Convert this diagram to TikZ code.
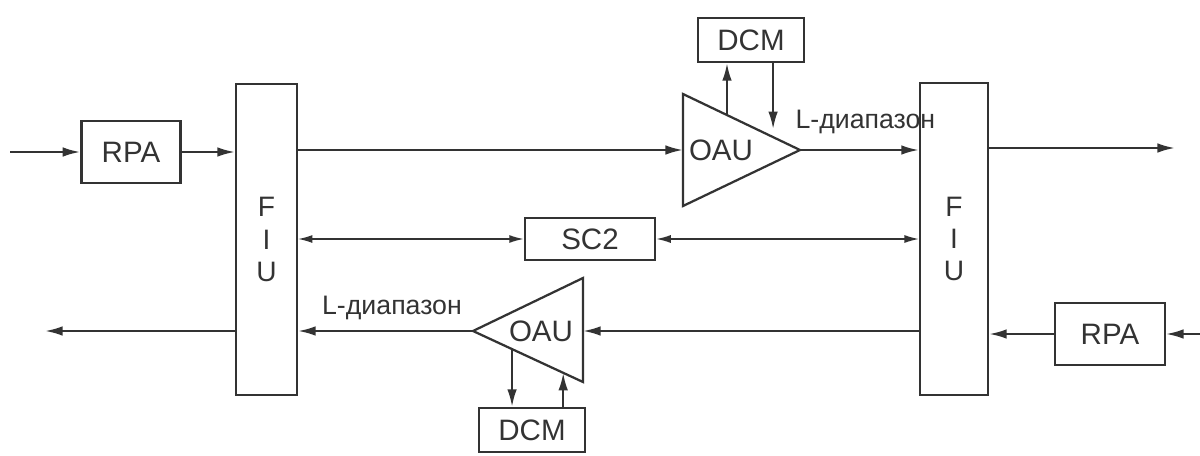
\documentclass[tikz,border=0pt]{standalone}
\usepackage{fontspec}
\setmainfont{Liberation Sans}
\usetikzlibrary{positioning,arrows.meta,calc}

\begin{document}
\begin{tikzpicture}[
    x=0.0125cm, y=-0.0125cm,
    font=\fontsize{10.5}{11.5}\selectfont,
    color=black!80, line width=0.8pt,
    box/.style    ={draw, inner sep=0pt, minimum width=1.24cm, minimum height=0.78cm},
    dcmbox/.style ={draw, inner sep=0pt, minimum width=1.33cm, minimum height=0.55cm},
    fiu/.style    ={draw, inner sep=0pt, align=center, minimum height=3.89cm,
                    font=\fontsize{10}{11.4}\selectfont},
    arrow/.style  ={-{Latex[length=2.2mm,width=1.2mm]}},
    twoway/.style ={{Latex[length=1.8mm,width=1mm]}-{Latex[length=1.8mm,width=1mm]},
                    line width=0.5pt},
    band/.style   ={font=\fontsize{9.5}{11}\selectfont}
]
\useasboundingbox (0,0) rectangle (1200,456);

% --- FIU blocks ---
\node[fiu, minimum width=0.76cm] (fiu1) at (266.5,239.5) {F\\I\\U};
\node[fiu, minimum width=0.85cm] (fiu2) at (954,239) {F\\I\\U};

% --- RPA inputs ---
\node[box] (rpa1) at (131,152) {RPA};
\node[box, minimum width=1.37cm] (rpa2) at (1110,334) {RPA};
\coordinate (in1) at (10,152);
\coordinate (in2) at (1200,334);
\draw[arrow] (in1) -- (rpa1);
\draw[arrow] (rpa1.east) -- (rpa1.east -| fiu1.west);
\draw[arrow] (in2) -- (rpa2);
\draw[arrow] (rpa2.west) -- (rpa2.west -| fiu2.east);

% --- upper OAU ---
\coordinate (oau1top) at (683,94);
\coordinate (oau1bot) at (683,206);
\coordinate (oau1tip) at (800,150);
\coordinate (oau1in)  at (683,150);
\draw (oau1top) -- (oau1tip) -- (oau1bot) -- cycle;
\node (oau1) at (721,150) {OAU};
\node[dcmbox] (dcm1) at (751,40) {DCM};
\coordinate (t1a) at ($(oau1top)!0.376!(oau1tip)$);
\coordinate (t1b) at ($(oau1top)!0.77!(oau1tip)$);
\draw[arrow] (t1a) -- (t1a |- dcm1.south);
\draw[arrow] (t1b |- dcm1.south) -- ($(t1b)+(0,-8)$);
\node[band, anchor=west] (lab1) at (785,122) {L-диапазон};

\draw[arrow] (fiu1.east |- oau1in) -- (oau1in);
\draw[arrow] (oau1tip) -- (oau1tip -| fiu2.west);

% --- lower OAU ---
\coordinate (oau2top) at (583,278);
\coordinate (oau2bot) at (583,382);
\coordinate (oau2tip) at (473,331);
\coordinate (oau2in)  at (583,331);
\draw (oau2top) -- (oau2tip) -- (oau2bot) -- cycle;
\node (oau2) at (541,331) {OAU};
\node[dcmbox] (dcm2) at (532,430) {DCM};
\coordinate (t2a) at ($(oau2bot)!0.645!(oau2tip)$);
\coordinate (t2b) at ($(oau2bot)!0.18!(oau2tip)$);
\draw[arrow] (t2a) -- (t2a |- dcm2.north);
\draw[arrow] (t2b |- dcm2.north) -- (t2b);
\node[band] (lab2) at (392,308) {L-диапазон};

\draw[arrow] (oau2in -| fiu2.west) -- (oau2in);
\draw[arrow] (oau2tip) -- (oau2tip -| fiu1.east);

% --- outputs ---
\coordinate (out1) at (1175,148);
\coordinate (out2) at (45,331);
\draw[arrow] (fiu2.east |- out1) -- (out1);
\draw[arrow] (fiu1.west |- out2) -- (out2);

% --- SC2 ---
\node[box, minimum width=1.63cm, minimum height=0.53cm] (sc2) at (590,239) {SC2};
\draw[twoway] (fiu1.east |- sc2) -- (sc2.west);
\draw[twoway] (sc2.east) -- (sc2 -| fiu2.west);

\end{tikzpicture}
\end{document}
